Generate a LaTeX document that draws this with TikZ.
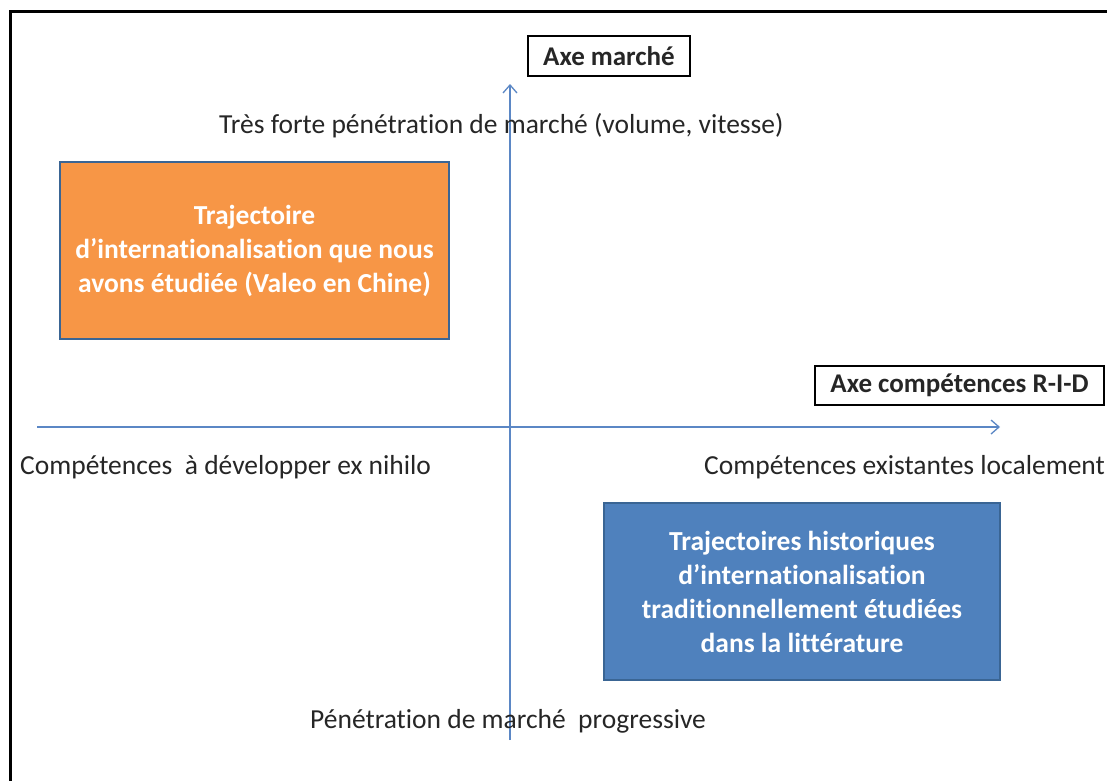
\documentclass[tikz,border=0pt]{standalone}
\usepackage{fontspec}
\setmainfont[Ligatures=NoCommon]{Carlito}
\usetikzlibrary{arrows.meta}
\definecolor{axisblue}{HTML}{5B87C5}
\definecolor{boxorange}{HTML}{F79646}
\definecolor{boxblue}{HTML}{4F81BD}
\definecolor{boxedge}{HTML}{3A6594}
\tikzset{
  lab/.style={font=\fontsize{27.5}{30}\selectfont, text=black!85, inner sep=0pt},
  axislab/.style={draw=black, line width=1.2pt, fill=white, font=\fontsize{27}{30}\selectfont\bfseries, inner sep=0pt, text=black!85},
  axisline/.style={draw=axisblue, line width=1.3pt, -{Straight Barb[length=8pt,width=14pt,line width=1.3pt]}},
  quad/.style={draw=boxedge, line width=2.2pt, text=white, font=\fontsize{27.5}{34}\selectfont\bfseries, align=center, inner sep=0pt}
}
\begin{document}
\begin{tikzpicture}[x=1pt,y=-1pt]
\useasboundingbox (0,0) rectangle (1107,780);
\fill[white] (0,0) rectangle (1107,780);
% frame
\draw[black, line width=3pt] (10,790) -- (10,11) -- (1120,11);
% axes
\coordinate (vs) at (510,740);
\coordinate (ve) at (510,84);
\coordinate (hs) at (37,427);
\coordinate (he) at (1000,427);
\draw[axisline] (vs) -- (ve);
\draw[axisline] (hs) -- (he);
% axis labels
\node[axislab, minimum width=162pt, minimum height=40pt] (am) at (609,56) {Axe marché};
\node[axislab, minimum width=289pt, minimum height=39pt] (ac) at (959.5,385.5) {Axe compétences R-I-D};
% pole labels
\node[lab, anchor=west] (top) at (219,126) {Très forte pénétration de marché (volume, vitesse)};
\node[lab, anchor=west] (left) at (20,467) {Compétences\ \ à développer ex nihilo};
\node[lab, anchor=west] (right) at (704,467) {Compétences existantes localement};
\node[lab, anchor=west] (bottom) at (310,721) {Pénétration de marché\ \ progressive};
% quadrant boxes
\node[quad, fill=boxorange, minimum width=389pt, minimum height=177pt] (orange) at (254.5,250.5)
  {Trajectoire\\d’internationalisation que nous\\avons étudiée (Valeo en Chine)};
\node[quad, fill=boxblue, minimum width=396pt, minimum height=177pt] (blue) at (802,591.5)
  {Trajectoires historiques\\d’internationalisation\\traditionnellement étudiées\\dans la littérature};
\end{tikzpicture}
\end{document}
